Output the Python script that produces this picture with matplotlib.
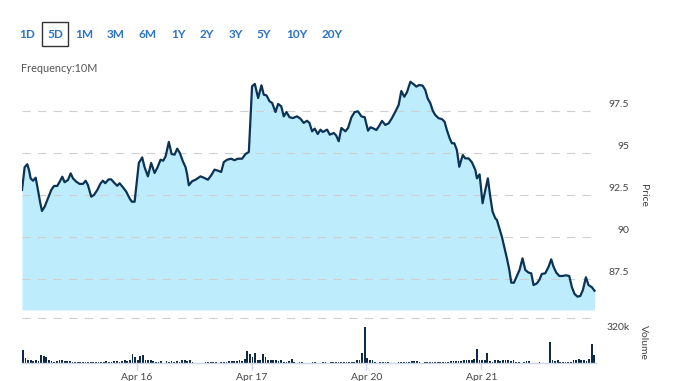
import matplotlib
matplotlib.use("Agg")
import matplotlib.pyplot as plt
from matplotlib.patches import Rectangle

plt.rcParams['font.family'] = ['Lato', 'DejaVu Sans']

# ---------------- data ----------------
# time in trading days since the Apr 15 session open (0..5), 10-minute bars
price_t = [0.000, 0.023, 0.046, 0.061, 0.075, 0.096, 0.119, 0.139, 0.157, 0.174,
           0.197, 0.226, 0.255, 0.279, 0.307, 0.328, 0.351, 0.371, 0.400, 0.424,
           0.444, 0.473, 0.502, 0.531, 0.554, 0.574, 0.603, 0.627, 0.656, 0.685,
           0.705, 0.725, 0.754, 0.777, 0.807, 0.830, 0.850, 0.879, 0.908, 0.937,
           0.957, 0.981, 1.018, 1.027, 1.047, 1.068, 1.097, 1.125, 1.155, 1.178,
           1.207, 1.230, 1.251, 1.279, 1.303, 1.329, 1.352, 1.375, 1.401, 1.425,
           1.439, 1.453, 1.482, 1.512, 1.555, 1.590, 1.619, 1.648, 1.677, 1.706,
           1.735, 1.758, 1.787, 1.822, 1.851, 1.880, 1.917, 1.947, 1.976, 2.004,
           2.028, 2.057, 2.086, 2.106, 2.130, 2.156, 2.179, 2.208, 2.231, 2.258,
           2.280, 2.304, 2.330, 2.359, 2.396, 2.426, 2.454, 2.483, 2.504, 2.527,
           2.550, 2.576, 2.600, 2.620, 2.658, 2.681, 2.716, 2.736, 2.759, 2.782,
           2.817, 2.840, 2.870, 2.898, 2.927, 2.956, 2.985, 3.014, 3.035, 3.058,
           3.087, 3.107, 3.136, 3.165, 3.194, 3.222, 3.252, 3.281, 3.304, 3.330,
           3.353, 3.383, 3.412, 3.435, 3.461, 3.490, 3.513, 3.533, 3.557, 3.579,
           3.600, 3.629, 3.658, 3.681, 3.701, 3.725, 3.745, 3.766, 3.788, 3.809,
           3.826, 3.840, 3.861, 3.890, 3.919, 3.949, 3.963, 3.986, 4.012, 4.036,
           4.058, 4.079, 4.099, 4.123, 4.137, 4.158, 4.180, 4.204, 4.224, 4.245,
           4.262, 4.285, 4.311, 4.334, 4.360, 4.384, 4.412, 4.436, 4.456, 4.485,
           4.506, 4.528, 4.558, 4.587, 4.610, 4.630, 4.654, 4.680, 4.708, 4.737,
           4.767, 4.790, 4.813, 4.839, 4.863, 4.886, 4.912, 4.935, 4.964, 4.987]

price = [92.77, 94.12, 94.30, 93.96, 93.46, 93.32, 93.50, 92.77, 92.07, 91.52,
         91.77, 92.27, 92.77, 93.01, 93.01, 93.26, 93.56, 93.23, 93.36, 93.76,
         93.46, 93.26, 93.13, 93.13, 93.32, 93.07, 92.37, 92.47, 92.77, 93.17,
         93.32, 93.17, 93.40, 93.40, 93.17, 93.02, 93.17, 92.93, 92.67, 92.27,
         92.07, 92.07, 94.39, 94.48, 94.71, 94.12, 93.58, 94.38, 93.78, 94.08,
         94.57, 94.51, 94.77, 95.63, 94.91, 94.87, 95.23, 94.97, 94.48, 94.12,
         93.68, 93.05, 93.29, 93.38, 93.58, 93.48, 93.38, 93.64, 93.98, 93.92,
         93.84, 94.43, 94.57, 94.63, 94.54, 94.63, 94.63, 94.91, 95.03, 98.94,
         99.08, 98.24, 99.00, 98.44, 98.40, 98.05, 97.95, 97.41, 97.89, 97.75,
         97.15, 97.41, 97.10, 97.05, 97.15, 97.01, 96.76, 96.89, 96.76, 96.26,
         96.42, 96.10, 96.36, 96.22, 96.36, 96.06, 96.16, 96.02, 95.67, 96.46,
         96.26, 96.46, 97.10, 97.41, 97.45, 97.15, 97.10, 96.30, 96.50, 96.44,
         96.34, 96.54, 96.88, 96.64, 96.74, 97.04, 97.43, 97.83, 98.66, 98.32,
         98.58, 99.21, 99.06, 98.92, 99.02, 98.98, 98.72, 98.23, 97.93, 97.47,
         97.23, 97.04, 96.99, 96.83, 96.34, 95.85, 95.55, 95.55, 95.15, 94.15,
         94.55, 94.85, 94.65, 94.65, 94.42, 93.96, 93.46, 93.70, 91.98, 92.77,
         93.46, 92.37, 91.48, 91.08, 90.98, 90.49, 89.99, 89.30, 88.70, 88.01,
         87.25, 87.25, 87.65, 88.01, 88.70, 88.01, 87.85, 87.81, 87.11, 87.21,
         87.41, 87.77, 87.81, 88.20, 88.64, 88.20, 87.85, 87.65, 87.65, 87.69,
         87.65, 86.98, 86.58, 86.42, 86.46, 86.82, 87.57, 87.11, 86.98, 86.77]

bars_per_day = 44
# volume per 10-minute bar, thousands of contracts
volume = [113, 47, 24, 29, 18, 29, 18, 68, 60, 53, 24, 15, 9, 15, 24, 29, 15, 18, 15, 9,
          6, 9, 9, 12, 9, 9, 12, 9, 9, 12, 9, 9, 15, 9, 12, 15, 20, 9, 18, 27,
          18, 29, 77, 53,
          24, 60, 68, 24, 29, 24, 15, 12, 9, 18, 0, 18, 12, 15, 12, 15, 9, 29, 24, 15,
          24, 9, 0, 0, 0, 0, 6, 9, 9, 9, 6, 0, 9, 9, 12, 15, 15, 18, 15, 24,
          18, 38, 107, 83,
          53, 89, 29, 24, 77, 53, 29, 29, 24, 29, 18, 24, 9, 9, 18, 38, 9, 0, 9, 9,
          0, 0, 0, 6, 9, 0, 0, 9, 9, 0, 6, 9, 6, 9, 6, 9, 6, 9, 9, 12,
          27, 24, 89, 320,
          47, 24, 24, 9, 0, 12, 9, 12, 12, 0, 0, 0, 9, 9, 9, 9, 6, 18, 18, 18,
          6, 0, 6, 6, 6, 6, 6, 9, 9, 12, 12, 12, 15, 15, 18, 15, 18, 24, 29, 24,
          29, 38, 127, 24,
          29, 29, 89, 18, 9, 24, 24, 18, 29, 24, 24, 15, 24, 9, 9, 0, 9, 18, 18, 0,
          0, 0, 9, 0, 0, 0, 187, 24, 18, 24, 9, 6, 6, 6, 9, 24, 29, 38, 29, 29,
          20, 38, 166, 68]

day_labels = ['Apr 16', 'Apr 17', 'Apr 20', 'Apr 21']
price_ticks = [97.5, 95, 92.5, 90, 87.5]
price_tick_labels = ['97.5', '95', '92.5', '90', '87.5']
ranges = ['1D', '5D', '1M', '3M', '6M', '1Y', '2Y', '3Y', '5Y', '10Y', '20Y']

# ---------------- layout helpers ----------------
W, H = 678, 381
def fx(px):
    return px / W
def fy(py):
    return 1 - py / H

LINE = '#0c3354'
FILL = '#bdedfd'
GRID = '#cfcfcf'
AXC = '#ccd6eb'
TXT = '#444444'
BLUE = '#2b72c4'

fig = plt.figure(figsize=(W / 100, H / 100), dpi=100)

left, right = 22, 596
ax = fig.add_axes([fx(left), fy(310), fx(right) - fx(left), fy(80) - fy(310)])
axv = fig.add_axes([fx(left), fy(363), fx(right) - fx(left), fy(318) - fy(363)])

# ---- price panel ----
ymin = 97.5 - (310 - 110.5) / 16.8
ymax = 97.5 + (110.5 - 80) / 16.8
ax.set_xlim(0, 5)
ax.set_ylim(ymin, ymax)
ax.fill_between(price_t, price, ymin, color=FILL, lw=0, zorder=1)
ax.plot(price_t, price, color=LINE, lw=1.6, zorder=3, solid_joinstyle='round')
for v in price_ticks:
    ax.axhline(v, color=GRID, lw=0.8, ls=(0, (7.5, 6.5)), zorder=2)
for s in ax.spines.values():
    s.set_visible(False)
ax.set_xticks([])
ax.set_yticks([])
for v, lab in zip(price_ticks, price_tick_labels):
    ax.annotate(lab, xy=(1, v), xycoords=('axes fraction', 'data'),
                xytext=(24, 4.5), textcoords='offset points',
                ha='right', va='center', fontsize=7.5, color=TXT)
fig.text(fx(643), fy(195), 'Price', rotation=-90, ha='center', va='center',
         fontsize=7.5, color=TXT)

# ---- volume panel ----
vx = [i / bars_per_day for i in range(len(volume))]
axv.set_xlim(0, 5)
axv.set_ylim(0, 400)
axv.bar(vx, volume, width=0.68 / bars_per_day, align='edge', color='#0e2a47', lw=0)
axv.axhline(400, color=GRID, lw=0.8, ls=(0, (7.5, 6.5)), clip_on=False)
for k in ['top', 'left', 'right']:
    axv.spines[k].set_visible(False)
axv.spines['bottom'].set_color(AXC)
axv.spines['bottom'].set_linewidth(1)
axv.set_xticks([1, 2, 3, 4])
axv.set_xticklabels(day_labels)
axv.tick_params(axis='x', length=5, width=1, color=AXC, pad=2,
                labelsize=7.5, labelcolor=TXT)
axv.set_yticks([])
axv.annotate('320k', xy=(1, 320), xycoords=('axes fraction', 'data'),
             xytext=(24, 0), textcoords='offset points',
             ha='right', va='center', fontsize=7.5, color=TXT)
fig.text(fx(643), fy(342), 'Volume', rotation=-90, ha='center', va='center',
         fontsize=7.5, color=TXT)

# ---- range buttons ----
btn_x = [27.3, 55, 84.3, 116, 148, 178.5, 206.5, 236, 264, 297, 332]
for lab, bx in zip(ranges, btn_x):
    fig.text(fx(bx), fy(35), lab, ha='center', va='center', fontsize=8.5,
             fontweight='bold', color=BLUE)
fig.patches.append(Rectangle((fx(42.3), fy(46)), fx(68.3) - fx(42.3), fy(22.3) - fy(46),
                             transform=fig.transFigure, fill=False,
                             edgecolor='#333333', lw=1))
fig.text(fx(20.5), fy(68), 'Frequency:10M', ha='left', va='center',
         fontsize=7.8, color='#555555')

fig.savefig('out.png', dpi=100)
